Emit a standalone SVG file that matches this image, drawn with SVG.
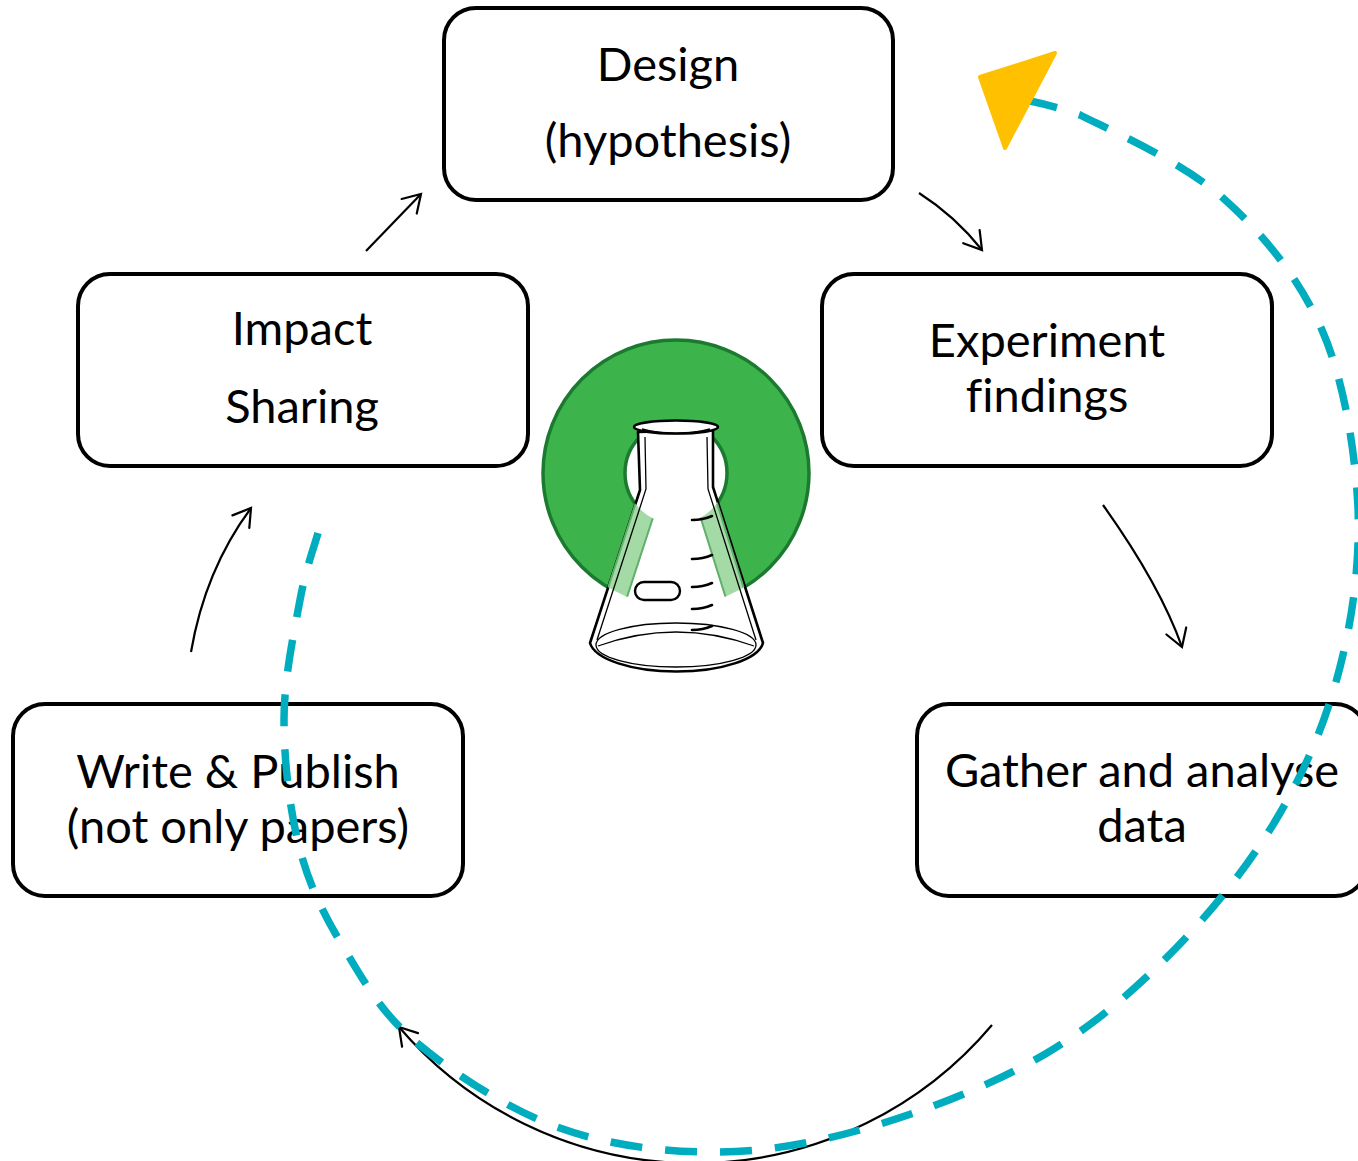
<svg xmlns="http://www.w3.org/2000/svg" width="1358" height="1161" viewBox="0 0 1358 1161">
<style>
.box{fill:#fff;stroke:#000;stroke-width:4}
.lbl{font-family:Lato,"Liberation Sans",sans-serif;font-size:47px;text-anchor:middle;fill:#000;font-variant-ligatures:none}
.conn{fill:none;stroke:#000;stroke-width:2.2;marker-end:url(#arr)}
.glass{fill:none;stroke:#000;stroke-width:1.3}
.grad{fill:none;stroke:#000;stroke-width:2.6;stroke-linecap:round}
</style>
<defs>
<marker id="arr" markerUnits="userSpaceOnUse" markerWidth="30" markerHeight="30" refX="0" refY="0" orient="auto" overflow="visible">
<path d="M-17,-10.5 L0,0 L-17,10.5" fill="none" stroke="#000" stroke-width="2.2" stroke-linecap="round" stroke-linejoin="miter"/>
</marker>
<clipPath id="ringclip">
<path clip-rule="evenodd" d="M543 473 A133 133 0 1 0 809 473 A133 133 0 1 0 543 473 Z M625 473 A51 51 0 1 0 727 473 A51 51 0 1 0 625 473 Z"/>
</clipPath>
</defs>
<rect width="1358" height="1161" fill="#fff"/>

<g id="logo">
<circle cx="676" cy="473" r="133" fill="#3cb44b" stroke="#1c7a30" stroke-width="3.5"/>
<circle cx="676" cy="473" r="51" fill="#fff" stroke="#1c7a30" stroke-width="3.5"/>
<path d="M638 432 L640 490 L590 643 A87 32 0 0 0 763 643 L713 487 L713 430 Z" fill="#fff" stroke="#000" stroke-width="2.6" stroke-linejoin="round"/>
<g clip-path="url(#ringclip)">
<polygon points="640,490 662,490 612,643 590,643" fill="#a3daa5" stroke="#5fb06a" stroke-width="2"/>
<polygon points="691,487 712,487 761,643 740,643" fill="#a3daa5" stroke="#5fb06a" stroke-width="2"/>
</g>
<path class="glass" d="M645 437 L646 489 L597 640"/>
<path class="glass" d="M707 437 L708 489 L756 640"/>
<ellipse cx="676" cy="645" rx="80" ry="22" class="glass"/>
<path class="glass" d="M598 646 Q676 618 754 646"/>
<ellipse cx="676" cy="427" rx="42" ry="6.5" fill="#fff" stroke="#000" stroke-width="2.6"/>
<path class="glass" d="M642 429 Q676 438 710 429"/>
<rect x="635" y="582" width="45" height="18" rx="9" fill="#fff" stroke="#000" stroke-width="2.4"/>
<path class="grad" d="M692 520 Q703 520 712 516"/>
<path class="grad" d="M692 559 Q703 559 712 555"/>
<path class="grad" d="M692 587 Q703 587 712 583"/>
<path class="grad" d="M692 609 Q703 609 712 605"/>
<path class="grad" d="M692 630 Q703 630 712 626"/>
</g>

<g id="node-design">
<rect class="box" x="444" y="8" width="449" height="192" rx="32"/>
<text class="lbl" x="668" y="81">Design</text>
<text class="lbl" x="668" y="157">(hypothesis)</text>
</g>
<g id="node-impact">
<rect class="box" x="78" y="274" width="450" height="192" rx="32"/>
<text class="lbl" x="302" y="345">Impact</text>
<text class="lbl" x="302" y="423">Sharing</text>
</g>
<g id="node-experiment">
<rect class="box" x="822" y="274" width="450" height="192" rx="32"/>
<text class="lbl" x="1047" y="357">Experiment</text>
<text class="lbl" x="1047" y="412">findings</text>
</g>
<g id="node-write">
<rect class="box" x="13" y="704" width="450" height="192" rx="32"/>
<text class="lbl" x="238" y="788">Write &amp; Publish</text>
<text class="lbl" x="238" y="843">(not only papers)</text>
</g>
<g id="node-gather">
<rect class="box" x="917" y="704" width="450" height="192" rx="32"/>
<text class="lbl" x="1142" y="787">Gather and analyse</text>
<text class="lbl" x="1142" y="842">data</text>
</g>

<g id="connectors">
<path class="conn" d="M366 251 L421 194"/>
<path class="conn" d="M919 193 Q955 216 982 250"/>
<path class="conn" d="M1103 505 Q1160 585 1182 647"/>
<path class="conn" d="M992 1025 A389 389 0 0 1 399 1027"/>
<path class="conn" d="M191 652 Q205 570 251 508"/>
<path id="cycle" fill="none" stroke="#00adbf" stroke-width="7.5" stroke-dasharray="32 23" d="M318 533 C315 544.2 305.7 568.8 300 600 C294.3 631.2 284 678.3 284 720 C284 761.7 289.8 811.7 300 850 C310.2 888.3 325.5 917.8 345 950 C364.5 982.2 381.7 1013.5 417 1043 C452.3 1072.5 507 1108.8 557 1127 C607 1145.2 663.7 1152.3 717 1152 C770.3 1151.7 822 1141.5 877 1125 C932 1108.5 997 1082.7 1047 1053 C1097 1023.3 1138.2 987 1177 947 C1215.8 907 1252.8 859.7 1280 813 C1307.2 766.3 1327 718 1340 667 C1353 616 1360 563 1358 507 C1355 450.8 1344.5 381.5 1322 330 C1299.5 278.5 1263.3 233.8 1223 198 C1182.7 162.2 1112.2 131.2 1080 115 C1063 109 1045 104 1030 101"/>
<polygon points="980,77 1055,53 1005,148" fill="#ffc000" stroke="#ffc000" stroke-width="4" stroke-linejoin="round"/>
</g>
</svg>
